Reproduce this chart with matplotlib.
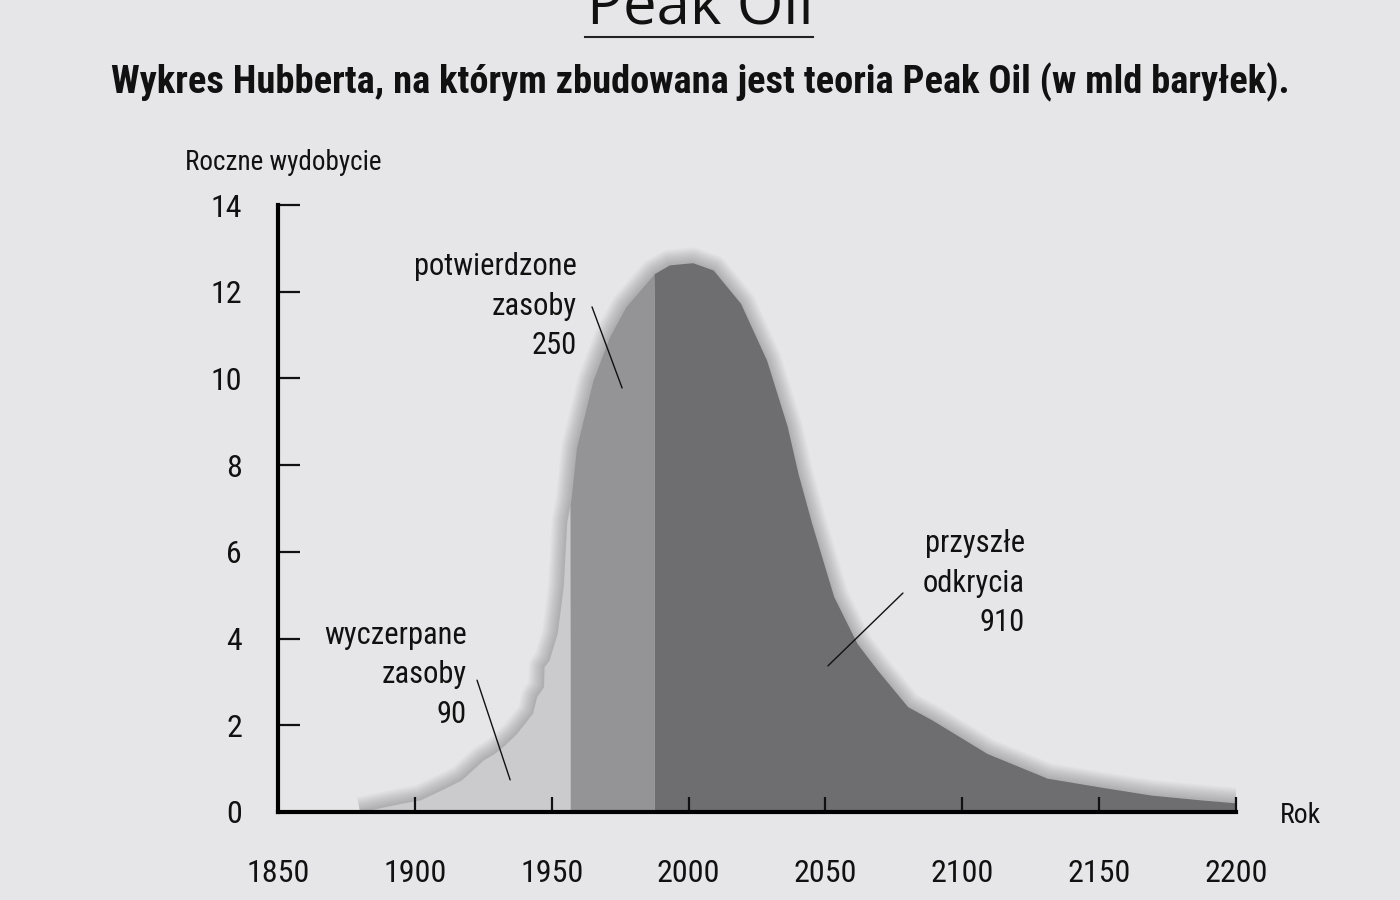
import numpy as np
import matplotlib
matplotlib.use("Agg")
import matplotlib.pyplot as plt
from matplotlib.lines import Line2D

plt.rcParams['font.family'] = ['Roboto Condensed', 'Liberation Sans Narrow', 'DejaVu Sans Condensed',
                               'Arial Narrow', 'Liberation Sans', 'DejaVu Sans']

# Hubbert curve (year, annual production in bn barrels)
years = [1880, 1895, 1902, 1912, 1917, 1925, 1929, 1932, 1937, 1943, 1944.5, 1947, 1947.2,
         1949, 1952, 1954.2, 1955.5, 1957, 1959, 1965, 1971, 1977, 1987.5, 1993, 2001.5,
         2009, 2019, 2028.5, 2036, 2040, 2045, 2053, 2061.5, 2069, 2080, 2089, 2109,
         2131, 2150, 2169, 2187, 2200]
production = [0.0, 0.2, 0.28, 0.58, 0.74, 1.2, 1.35, 1.5, 1.8, 2.28, 2.66, 2.89, 3.35,
              3.5, 4.12, 5.2, 6.7, 7.2, 8.4, 9.95, 10.95, 11.65, 12.42, 12.62, 12.67,
              12.5, 11.73, 10.42, 8.9, 7.8, 6.65, 4.97, 3.89, 3.27, 2.43, 2.12, 1.35,
              0.78, 0.58, 0.39, 0.28, 0.21]

# boundaries between the three shaded regions
split_years = [1956.7, 1987.4]
region_colors = ['#cbcbcd', '#949496', '#6e6e70']
region_labels = ['wyczerpane\nzasoby\n90', 'potwierdzone\nzasoby\n250', 'przyszłe\nodkrycia\n910']

x_ticks = [1850, 1900, 1950, 2000, 2050, 2100, 2150, 2200]
y_ticks = [0, 2, 4, 6, 8, 10, 12, 14]

bg = '#e6e6e8'
fig = plt.figure(figsize=(14, 9), dpi=100, facecolor=bg)
ax = fig.add_axes([0.1986, 0.0978, 0.6843, 0.6744], facecolor=bg)
ax.set_axisbelow(False)

x = np.array(years, dtype=float)
y = np.array(production, dtype=float)

# soft shadow around the curve
for lw in np.linspace(22, 2, 12):
    ax.plot(x, y, color='#000000', alpha=0.018, lw=lw, solid_capstyle='butt',
            solid_joinstyle='round', zorder=1)

edges = [x[0]] + split_years + [x[-1]]
for i in range(3):
    lo, hi = edges[i], edges[i + 1]
    mask = (x > lo) & (x < hi)
    xs = np.concatenate([[lo], x[mask], [hi]])
    ys = np.interp(xs, x, y)
    ax.fill_between(xs, 0, ys, color=region_colors[i], lw=0, zorder=2)

ax.set_xlim(1850, 2200)
ax.set_ylim(0, 14)
for s in ['top', 'right']:
    ax.spines[s].set_visible(False)
for s in ['left', 'bottom']:
    ax.spines[s].set_linewidth(3)
    ax.spines[s].set_capstyle('projecting')
    ax.spines[s].set_zorder(5)

ax.set_xticks(x_ticks)
ax.set_yticks(y_ticks)
ax.set_xticklabels([str(t) for t in x_ticks])
ax.set_yticklabels([str(t) for t in y_ticks])
ax.tick_params(axis='y', direction='in', length=16, width=1.6, pad=26, labelsize=23,
               colors='#111111')
ax.tick_params(axis='x', direction='in', length=11, width=1.6, pad=34, labelsize=23,
               colors='#111111')

# region annotations
label_pos = [(1919.0, 3.16), (1959.2, 11.67), (2122.9, 5.28)]
leader_from = [(1922.7, 3.04), (1964.7, 11.65), (2078.3, 5.05)]
leader_to = [(1934.8, 0.74), (1975.7, 9.78), (2050.9, 3.37)]
for lab, pos, p0, p1 in zip(region_labels, label_pos, leader_from, leader_to):
    ax.text(pos[0], pos[1], lab, ha='right', va='center', fontsize=22,
            linespacing=1.45, color='#111111', zorder=6)
    ax.annotate('', xy=p1, xytext=p0,
                arrowprops=dict(arrowstyle='-', color='#111111', lw=1.0,
                                shrinkA=0, shrinkB=0), zorder=6)

fig.text(0.132, 0.82, 'Roczne wydobycie', fontsize=19.5, ha='left', va='center',
         color='#111111')
fig.text(0.914, 0.094, 'Rok', fontsize=20, ha='left', va='center', color='#111111')

fig.text(0.5, 0.974, 'Peak Oil', family=['Open Sans', 'DejaVu Sans'], fontsize=43,
         ha='center', va='baseline', color='#111111')
fig.add_artist(Line2D([0.418, 0.581], [0.959, 0.959], transform=fig.transFigure,
                      color='#222222', lw=1.5))
sub = fig.text(0.5, 0.909, 'Wykres Hubberta, na którym zbudowana jest teoria Peak Oil (w mld baryłek).',
               fontsize=25, fontweight='bold', ha='center', va='center', color='#111111')

# fit the subtitle to the width it has in the original
fig.canvas.draw()
w = sub.get_window_extent().width
sub.set_fontsize(25 * 1178 / w)

fig.savefig('out.png', dpi=100, facecolor=bg)
